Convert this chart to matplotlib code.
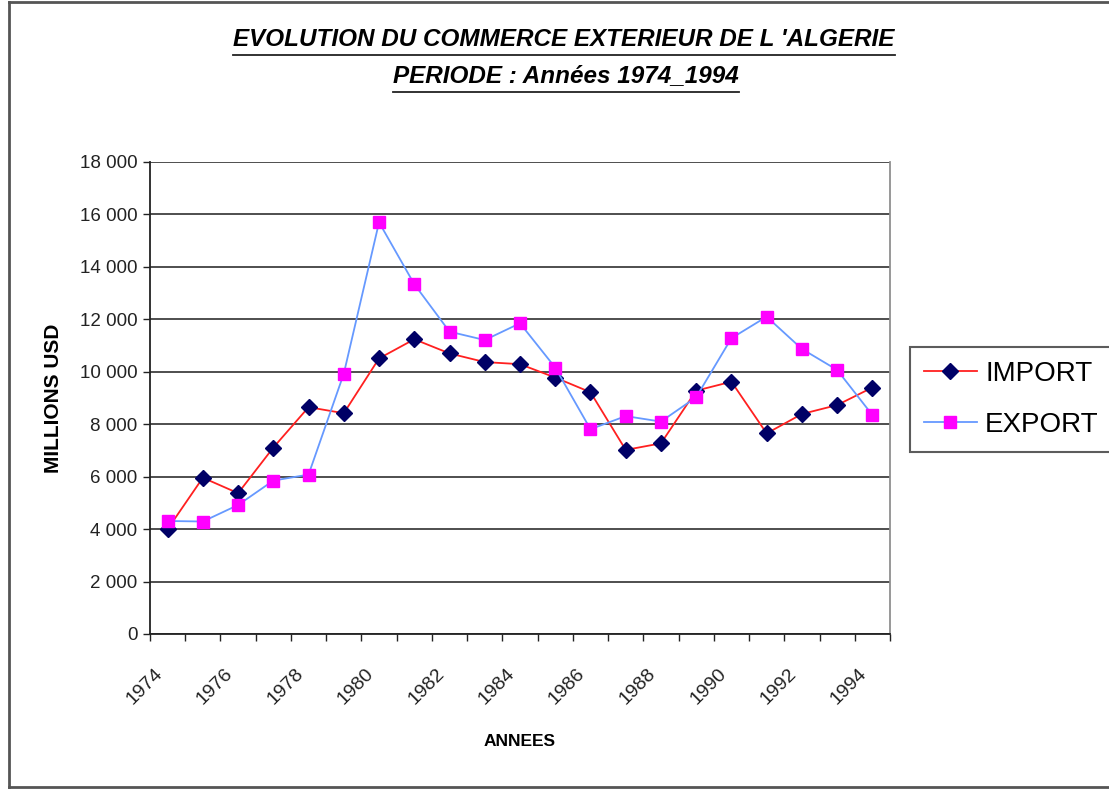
import matplotlib
matplotlib.use("Agg")
import matplotlib.pyplot as plt
import matplotlib.transforms as mtransforms
from matplotlib.lines import Line2D
import numpy as np

years = list(range(1974, 1995))
imports = [4000, 5960, 5370, 7110, 8650, 8420, 10510, 11240, 10700, 10370, 10290,
           9780, 9220, 7020, 7270, 9280, 9620, 7650, 8390, 8730, 9400]
exports = [4310, 4290, 4920, 5850, 6080, 9930, 15700, 13340, 11530, 11210, 11850,
           10160, 7810, 8310, 8100, 9030, 11280, 12100, 10870, 10070, 8350]
ytick_vals = list(range(0, 18001, 2000))
ytick_labels = [f"{v:,}".replace(",", " ") for v in ytick_vals]
xtick_labels = [str(y) for y in years[::2]]

plt.rcParams['font.family'] = ['Liberation Sans', 'DejaVu Sans']

W, H = 1109, 789
fig = plt.figure(figsize=(W / 100, H / 100), dpi=100)
fig.patch.set_facecolor('white')

ax = fig.add_axes([150 / W, 1 - 634 / H, (890 - 150) / W, (634 - 162) / H])
x = np.arange(len(years))

ax.plot(x, imports, color='#FF2020', lw=1.3, marker='D', markersize=8.5,
        markerfacecolor='#000066', markeredgecolor='#000066', label='IMPORT', zorder=3)
ax.plot(x, exports, color='#6699FF', lw=1.3, marker='s', markersize=8.5,
        markerfacecolor='#FF00FF', markeredgecolor='#FF00FF', label='EXPORT', zorder=3)

ax.set_xlim(-0.5, len(years) - 0.5)
ax.set_ylim(0, 18000)
ax.set_yticks(ytick_vals)
ax.set_yticklabels(ytick_labels, fontsize=13.5, color='#222222')
ax.yaxis.grid(True, color='#303030', lw=1.2)
ax.set_axisbelow(True)

ax.set_xticks(np.arange(-0.5, len(years), 1.0), minor=False)
ax.set_xticklabels([])
ax.set_xticks(x[::2], minor=True)
ax.set_xticklabels(xtick_labels, minor=True, rotation=45, ha='right', va='center',
                   rotation_mode='anchor', fontsize=14, color='#222222')
ax.tick_params(axis='x', which='minor', length=0, pad=27)
ax.tick_params(axis='x', which='major', length=5, width=1, color='#222222', direction='out')
ax.tick_params(axis='y', length=5, width=1, color='#222222', direction='out', pad=4)

shift = mtransforms.ScaledTranslation(-8 / 100, 0, fig.dpi_scale_trans)
for lab in ax.get_xticklabels(minor=True):
    lab.set_transform(lab.get_transform() + shift)

for s in ['left', 'bottom']:
    ax.spines[s].set_color('#222222')
    ax.spines[s].set_linewidth(1.3)
ax.spines['top'].set_visible(False)
ax.spines['right'].set_color('#909090')
ax.spines['right'].set_linewidth(1.3)

ax.set_ylabel('MILLIONS USD', fontsize=15, fontweight='bold', labelpad=12)
ax.set_xlabel('ANNEES', fontsize=12.5, fontweight='bold')
ax.xaxis.set_label_coords(0.5, -(742 - 634) / (634 - 162))
ax.xaxis.label.set_va('center')

leg = fig.legend(loc='upper left', bbox_to_anchor=(910 / W, 1 - 347 / H),
                 fontsize=20, frameon=True, fancybox=False, handlelength=1.9,
                 handletextpad=0.3, borderpad=0.5, labelspacing=0.9,
                 borderaxespad=0)
leg.get_frame().set_edgecolor('#333333')
leg.get_frame().set_linewidth(1.5)

t1 = fig.text(564 / W, 1 - 40 / H, "EVOLUTION DU COMMERCE EXTERIEUR DE L 'ALGERIE",
              ha='center', va='center', fontsize=17.5, fontweight='bold', style='italic')
t2 = fig.text(566 / W, 1 - 76 / H, "PERIODE : Années 1974_1994",
              ha='center', va='center', fontsize=17.5, fontweight='bold', style='italic')

fig.canvas.draw()
r = fig.canvas.get_renderer()
for t, yy in [(t1, 55), (t2, 92)]:
    bb = t.get_window_extent(r)
    fig.add_artist(Line2D([bb.x0 / W, bb.x1 / W], [1 - yy / H, 1 - yy / H],
                          transform=fig.transFigure, color='#222222', lw=1.3))

# outer frame
fc = '#555555'
fig.add_artist(Line2D([8.5 / W, 8.5 / W], [1 - 1.5 / H, 1 - 786.5 / H], transform=fig.transFigure, color=fc, lw=2))
fig.add_artist(Line2D([8.5 / W, 1.0], [1 - 1.5 / H, 1 - 1.5 / H], transform=fig.transFigure, color=fc, lw=2))
fig.add_artist(Line2D([8.5 / W, 1.0], [1 - 786.5 / H, 1 - 786.5 / H], transform=fig.transFigure, color=fc, lw=2))

fig.savefig('out.png', dpi=100)
